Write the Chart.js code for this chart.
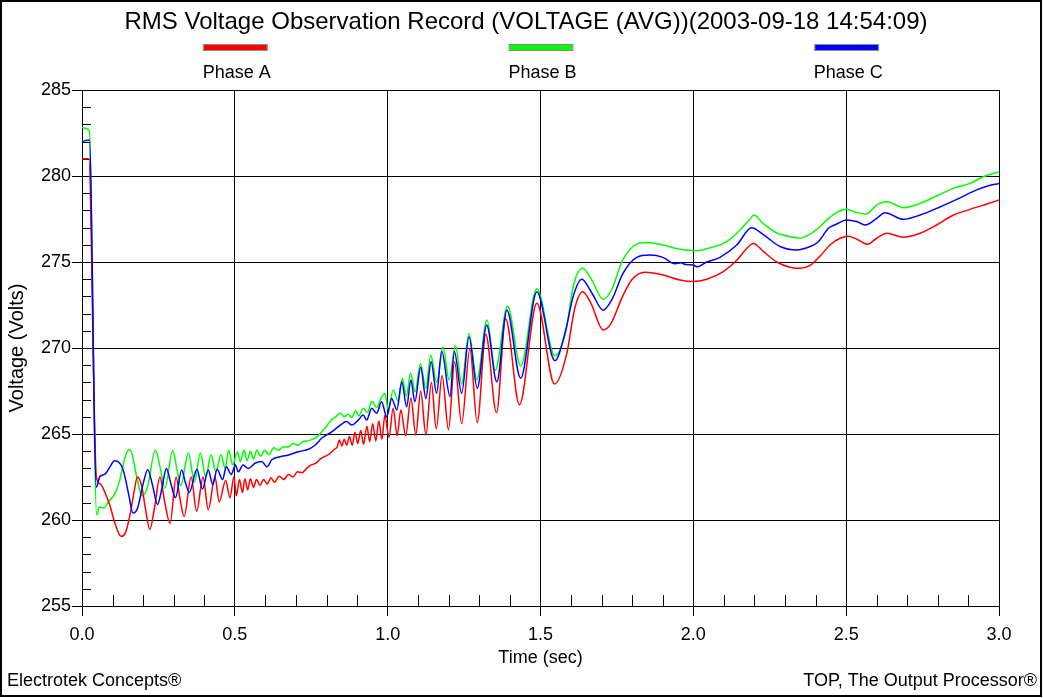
<!DOCTYPE html>
<html>
<head>
<meta charset="utf-8">
<title>RMS Voltage Observation Record</title>
<script src="https://cdn.jsdelivr.net/npm/chart.js@4.4.1/dist/chart.umd.min.js"></script>
<style>
  html, body { margin: 0; padding: 0; background: #fff; }
</style>
</head>
<body>
<canvas id="rmsChart" width="1043" height="698"></canvas>
<script>
// Phase A (red)
const timeA = [0.000, 0.022, 0.047, 0.060, 0.075, 0.092, 0.108, 0.128, 0.142, 0.157,
  0.170, 0.181, 0.195, 0.208, 0.222, 0.238, 0.255, 0.270, 0.288, 0.308,
  0.320, 0.334, 0.357, 0.375, 0.396, 0.413, 0.435, 0.449, 0.470, 0.484,
  0.497, 0.505, 0.515, 0.525, 0.533, 0.542, 0.551, 0.561, 0.571, 0.582,
  0.594, 0.606, 0.618, 0.630, 0.645, 0.660, 0.676, 0.690, 0.705, 0.720,
  0.735, 0.750, 0.765, 0.780, 0.795, 0.810, 0.825, 0.835, 0.842, 0.850,
  0.858, 0.866, 0.875, 0.884, 0.893, 0.902, 0.912, 0.921, 0.932, 0.941,
  0.951, 0.961, 0.971, 0.981, 0.991, 1.004, 1.018, 1.031, 1.043, 1.059,
  1.076, 1.092, 1.108, 1.125, 1.143, 1.159, 1.178, 1.199, 1.219, 1.242,
  1.269, 1.293, 1.321, 1.356, 1.386, 1.431, 1.488, 1.546, 1.585, 1.612,
  1.638, 1.665, 1.705, 1.730, 1.766, 1.798, 1.842, 1.902, 1.956, 2.000,
  2.044, 2.098, 2.142, 2.175, 2.196, 2.230, 2.273, 2.316, 2.349, 2.382,
  2.415, 2.447, 2.480, 2.507, 2.540, 2.569, 2.600, 2.633, 2.687, 2.742,
  2.796, 2.851, 2.905, 2.960, 3.000];
const voltA = [281.0, 281.0, 262.5, 262.1, 261.6, 260.8, 259.8, 259.05, 259.25, 260.3,
  261.6, 262.5, 262.0, 260.6, 259.45, 260.8, 262.5, 261.1, 259.8, 262.5,
  261.3, 260.2, 262.5, 260.5, 262.5, 260.6, 262.5, 261.05, 262.3, 261.3,
  262.5, 261.4, 262.35, 261.6, 262.4, 261.75, 262.4, 261.9, 262.35, 262.0,
  262.35, 262.1, 262.45, 262.2, 262.55, 262.35, 262.65, 262.5, 262.8, 262.75,
  263.0, 263.2, 263.3, 263.55, 263.7, 263.85, 264.1, 264.25, 264.65, 264.3,
  264.7, 264.35, 264.85, 264.35, 265.1, 264.45, 265.2, 264.4, 265.45, 264.55,
  265.6, 264.6, 265.75, 264.7, 266.1, 264.8, 266.5, 264.9, 266.4, 264.9,
  267.1, 264.95, 267.5, 264.95, 268.0, 265.3, 268.4, 265.25, 269.2, 265.6,
  269.95, 265.66, 270.8, 266.24, 271.7, 266.7, 272.6, 267.9, 269.6, 272.3,
  273.27, 272.6, 271.05, 271.4, 272.9, 273.95, 274.4, 274.24, 273.95, 273.86,
  274.0, 274.44, 275.1, 275.8, 276.08, 275.6, 275.0, 274.7, 274.63, 274.8,
  275.35, 275.99, 276.38, 276.5, 276.28, 276.03, 276.38, 276.67, 276.44, 276.67,
  277.15, 277.73, 278.06, 278.37, 278.6];

// Phase B (green)
const timeB = [0.000, 0.024, 0.048, 0.057, 0.071, 0.086, 0.108, 0.124, 0.141, 0.153,
  0.163, 0.179, 0.197, 0.214, 0.240, 0.255, 0.271, 0.297, 0.310, 0.323,
  0.348, 0.368, 0.387, 0.405, 0.422, 0.438, 0.455, 0.468, 0.480, 0.493,
  0.508, 0.518, 0.530, 0.540, 0.551, 0.561, 0.572, 0.585, 0.598, 0.612,
  0.627, 0.642, 0.658, 0.675, 0.690, 0.707, 0.722, 0.740, 0.755, 0.770,
  0.785, 0.800, 0.815, 0.830, 0.845, 0.858, 0.871, 0.882, 0.895, 0.906,
  0.920, 0.934, 0.948, 0.964, 0.980, 0.991, 1.002, 1.018, 1.035, 1.048,
  1.061, 1.075, 1.090, 1.107, 1.125, 1.141, 1.160, 1.181, 1.201, 1.222,
  1.242, 1.266, 1.292, 1.325, 1.352, 1.392, 1.435, 1.488, 1.547, 1.582,
  1.608, 1.638, 1.668, 1.705, 1.733, 1.766, 1.804, 1.847, 1.902, 1.956,
  2.011, 2.050, 2.109, 2.153, 2.185, 2.198, 2.228, 2.272, 2.316, 2.349,
  2.371, 2.409, 2.442, 2.469, 2.500, 2.534, 2.565, 2.600, 2.633, 2.689,
  2.742, 2.796, 2.851, 2.905, 2.949, 3.000];
const voltB = [282.8, 282.65, 260.3, 260.75, 260.7, 261.05, 261.55, 262.35, 263.65, 264.1,
  263.9, 262.5, 261.4, 261.9, 264.05, 263.1, 261.85, 264.05, 263.0, 262.0,
  263.9, 262.2, 263.9, 262.5, 263.8, 262.8, 263.8, 263.0, 264.05, 263.2,
  263.95, 263.4, 264.05, 263.45, 264.0, 263.55, 264.05, 263.7, 264.05, 263.8,
  264.2, 264.05, 264.25, 264.25, 264.45, 264.35, 264.55, 264.6, 264.7, 264.85,
  265.15, 265.45, 265.8, 266.0, 266.2, 266.0, 266.15, 265.95, 266.35, 266.05,
  266.5, 266.25, 266.9, 266.55, 267.15, 267.35, 266.4, 267.56, 266.9, 268.24,
  267.2, 268.55, 267.45, 269.1, 267.65, 269.6, 268.0, 270.07, 268.15, 270.15,
  267.9, 270.85, 268.15, 271.63, 268.7, 272.44, 268.95, 273.45, 269.55, 270.9,
  273.66, 274.63, 273.95, 272.83, 273.4, 275.0, 275.93, 276.14, 275.99, 275.74,
  275.66, 275.8, 276.18, 276.86, 277.48, 277.73, 277.25, 276.7, 276.47, 276.38,
  276.5, 276.96, 277.54, 277.87, 278.06, 277.87, 277.79, 278.31, 278.5, 278.16,
  278.41, 278.84, 279.28, 279.57, 279.96, 280.25];

// Phase C (blue)
const timeC = [0.000, 0.024, 0.047, 0.059, 0.074, 0.092, 0.106, 0.118, 0.135, 0.152,
  0.167, 0.182, 0.200, 0.215, 0.231, 0.247, 0.262, 0.276, 0.291, 0.306,
  0.326, 0.338, 0.351, 0.376, 0.394, 0.413, 0.428, 0.442, 0.460, 0.472,
  0.488, 0.502, 0.511, 0.527, 0.544, 0.566, 0.588, 0.605, 0.621, 0.648,
  0.676, 0.708, 0.741, 0.763, 0.784, 0.817, 0.839, 0.866, 0.882, 0.904,
  0.920, 0.931, 0.948, 0.964, 0.980, 0.997, 1.013, 1.030, 1.046, 1.062,
  1.076, 1.089, 1.108, 1.125, 1.142, 1.160, 1.177, 1.204, 1.218, 1.242,
  1.266, 1.293, 1.324, 1.357, 1.390, 1.435, 1.488, 1.547, 1.582, 1.607,
  1.635, 1.668, 1.705, 1.733, 1.770, 1.815, 1.858, 1.900, 1.940, 1.960,
  1.975, 2.000, 2.011, 2.044, 2.087, 2.142, 2.191, 2.228, 2.284, 2.338,
  2.382, 2.409, 2.442, 2.469, 2.500, 2.534, 2.562, 2.600, 2.627, 2.687,
  2.742, 2.807, 2.862, 2.927, 2.960, 3.000];
const voltC = [282.0, 282.1, 261.9, 262.55, 262.65, 263.1, 263.45, 263.4, 262.9, 261.55,
  260.4, 260.7, 262.1, 262.92, 262.0, 260.9, 261.9, 263.0, 262.1, 261.3,
  262.9, 262.2, 261.6, 262.95, 261.8, 262.9, 262.05, 262.95, 262.35, 263.1,
  262.65, 263.2, 262.8, 263.2, 263.0, 263.3, 263.4, 263.1, 263.5, 263.68,
  263.78, 263.97, 264.11, 264.36, 264.75, 265.13, 265.43, 265.72, 265.52, 265.81,
  266.1, 265.81, 266.49, 266.2, 266.88, 266.0, 267.07, 266.4, 268.04, 266.59,
  268.14, 266.88, 268.88, 267.07, 269.2, 267.37, 269.79, 267.17, 269.79, 267.37,
  270.66, 267.66, 271.34, 268.04, 272.2, 268.24, 273.27, 269.26, 271.0, 273.0,
  273.99, 273.2, 272.2, 272.8, 274.34, 275.27, 275.4, 275.27, 274.9, 274.95,
  274.85, 274.83, 274.72, 275.0, 275.27, 275.99, 276.99, 276.6, 275.9, 275.7,
  275.9, 276.18, 276.96, 277.21, 277.44, 277.35, 277.15, 277.54, 277.87, 277.48,
  277.73, 278.2, 278.64, 279.19, 279.4, 279.57];

const FONT = "'Liberation Sans', Arial, sans-serif";

function toPoints(ts, vs) {
  return ts.map((t, i) => ({ x: t, y: vs[i] }));
}

// white page, minor ticks inside the plot, header, legend, footer and frame
const decorations = {
  id: 'decorations',
  beforeDraw(chart) {
    const ctx = chart.ctx;
    ctx.save();
    ctx.fillStyle = '#fff';
    ctx.fillRect(0, 0, chart.width, chart.height);
    ctx.restore();
  },
  beforeDatasetsDraw(chart) {
    const ctx = chart.ctx;
    const { left, bottom } = chart.chartArea;
    const xs = chart.scales.x, ys = chart.scales.y;
    ctx.save();
    ctx.strokeStyle = '#000';
    ctx.lineWidth = 1;
    ctx.beginPath();
    for (let v = 256; v < 285; v++) {
      if (v % 5 === 0) continue;
      const y = Math.round(ys.getPixelForValue(v)) + 0.5;
      ctx.moveTo(left, y);
      ctx.lineTo(left + 9, y);
    }
    for (let k = 1; k < 30; k++) {
      if (k % 5 === 0) continue;
      const x = Math.round(xs.getPixelForValue(k / 10)) + 0.5;
      ctx.moveTo(x, bottom);
      ctx.lineTo(x, bottom - 11);
    }
    ctx.stroke();
    ctx.restore();
  },
  afterDraw(chart) {
    const ctx = chart.ctx;
    const area = chart.chartArea;
    ctx.save();
    ctx.fillStyle = '#000';
    ctx.textBaseline = 'middle';

    ctx.font = '24px ' + FONT;
    ctx.textAlign = 'center';
    ctx.fillText('RMS Voltage Observation Record (VOLTAGE (AVG))(2003-09-18 14:54:09)', 526, 22);

    // legend: colour bar over each phase name
    const sets = chart.data.datasets;
    const w = area.right - area.left;
    ctx.font = '18px ' + FONT;
    sets.forEach((ds, i) => {
      const cx = area.left + w * (2 * i + 1) / 6;
      ctx.fillStyle = ds.borderColor;
      ctx.fillRect(cx - 31, 45, 63, 5);
      ctx.strokeStyle = '#888';
      ctx.lineWidth = 1;
      ctx.strokeRect(cx - 31.5, 44.5, 64, 6);
      ctx.fillStyle = '#000';
      ctx.fillText(ds.label, cx + 2, 73);
    });

    ctx.textAlign = 'left';
    ctx.fillText('Electrotek Concepts\u00AE', 7, 681);
    ctx.textAlign = 'right';
    ctx.fillText('TOP, The Output Processor\u00AE', 1037, 681);

    ctx.strokeStyle = '#000';
    ctx.lineWidth = 2;
    ctx.strokeRect(1, 1, 1040, 695);
    ctx.restore();
  }
};

const ctx = document.getElementById('rmsChart').getContext('2d');
new Chart(ctx, {
  type: 'line',
  data: {
    datasets: [
      { label: 'Phase A', data: toPoints(timeA, voltA), borderColor: '#ff0000', order: 1 },
      { label: 'Phase B', data: toPoints(timeB, voltB), borderColor: '#00ff00', order: 2 },
      { label: 'Phase C', data: toPoints(timeC, voltC), borderColor: '#0000ff', order: 0 }
    ]
  },
  options: {
    responsive: false,
    animation: false,
    devicePixelRatio: 1,
    layout: { padding: { top: 90, right: 44, bottom: 0, left: 0 } },
    datasets: {
      line: { borderWidth: 1.5, pointRadius: 0, fill: false, cubicInterpolationMode: 'monotone' }
    },
    plugins: {
      legend: { display: false },
      title: { display: false },
      tooltip: { enabled: false }
    },
    scales: {
      x: {
        type: 'linear',
        min: 0,
        max: 3,
        afterFit(scale) { scale.height = 92; },
        ticks: {
          stepSize: 0.5,
          maxRotation: 0,
          padding: 8,
          color: '#000',
          font: { family: FONT, size: 18 },
          callback: v => v.toFixed(1)
        },
        grid: { color: '#000', lineWidth: 1, tickLength: 10, tickColor: '#000' },
        border: { color: '#000', width: 1 },
        title: {
          display: true,
          text: 'Time (sec)',
          color: '#000',
          font: { family: FONT, size: 18 },
          padding: { top: 0, bottom: 29 }
        }
      },
      y: {
        min: 255,
        max: 285,
        afterFit(scale) { scale.width = 82; },
        ticks: {
          stepSize: 5,
          padding: 1,
          color: '#000',
          font: { family: FONT, size: 18 }
        },
        grid: { color: '#000', lineWidth: 1, tickLength: 10, tickColor: '#000' },
        border: { color: '#000', width: 1 },
        title: {
          display: true,
          text: 'Voltage (Volts)',
          color: '#000',
          font: { family: FONT, size: 20 },
          padding: { top: 5, bottom: 0 }
        }
      }
    }
  },
  plugins: [decorations]
});
</script>
</body>
</html>
